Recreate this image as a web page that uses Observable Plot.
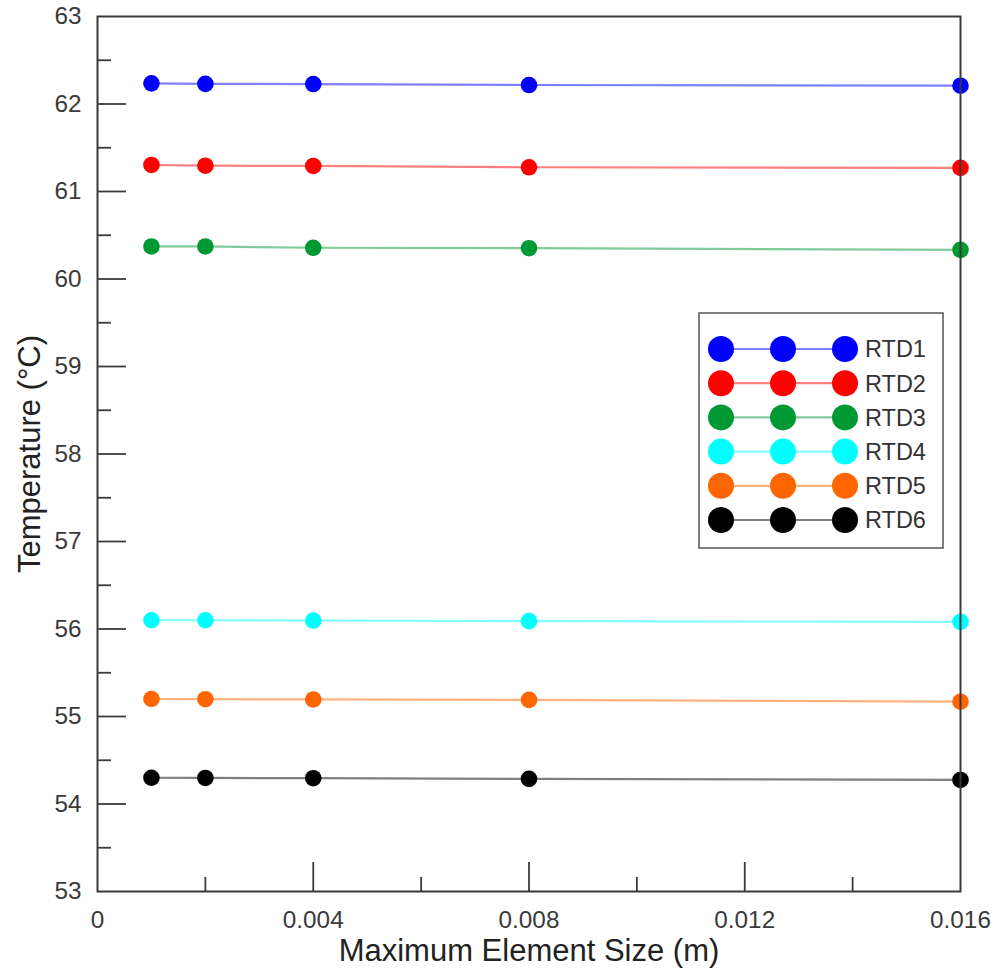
<!DOCTYPE html>
<html>
<head>
<meta charset="utf-8">
<script src="https://cdn.jsdelivr.net/npm/d3@7"></script>
<script src="https://cdn.jsdelivr.net/npm/@observablehq/plot@0.6"></script>
<style>
  body { margin: 0; background: #fff; }
  #wrap { position: relative; width: 995px; height: 970px; font-family: "Liberation Sans", Arial, sans-serif; }
  #wrap svg { display: block; }
  #legend { position: absolute; left: 0; top: 0; }
</style>
</head>
<body>
<div id="wrap"></div>
<script>
// ---- data ----
const elementSizes = [0.001, 0.002, 0.004, 0.008, 0.016];
const seriesNames = ["RTD1", "RTD2", "RTD3", "RTD4", "RTD5", "RTD6"];
const seriesColors = ["#0000ff", "#ff0000", "#009933", "#00ffff", "#ff6600", "#000000"];
const rtd1 = [62.236, 62.230, 62.228, 62.217, 62.209];
const rtd2 = [61.303, 61.295, 61.292, 61.277, 61.270];
const rtd3 = [60.372, 60.372, 60.357, 60.352, 60.333];
const rtd4 = [56.100, 56.100, 56.097, 56.090, 56.082];
const rtd5 = [55.200, 55.198, 55.195, 55.190, 55.169];
const rtd6 = [54.300, 54.298, 54.295, 54.287, 54.275];
const xMajorTicks = [0, 0.004, 0.008, 0.012, 0.016];
const xMinorTicks = [0.002, 0.006, 0.010, 0.014];
const yMajorTicks = [53, 54, 55, 56, 57, 58, 59, 60, 61, 62, 63];
const yMinorTicks = [53.5, 54.5, 55.5, 56.5, 57.5, 58.5, 59.5, 60.5, 61.5, 62.5];
const xTitle = "Maximum Element Size (m)";
const yTitle = "Temperature (°C)";

const allSeries = [rtd1, rtd2, rtd3, rtd4, rtd5, rtd6];
const rows = [];
allSeries.forEach((vals, i) => vals.forEach((v, j) => rows.push({ series: seriesNames[i], size: elementSizes[j], temp: v })));

const font = "'Liberation Sans', Arial, sans-serif";
const axisColor = "#3a3a3a";

const chart = Plot.plot({
  width: 995,
  height: 970,
  marginLeft: 97,
  marginRight: 35,
  marginTop: 16,
  marginBottom: 79,
  style: { fontFamily: font, background: "#fff", overflow: "visible" },
  x: { domain: [0, 0.016] },
  y: { domain: [53, 63] },
  color: { domain: seriesNames, range: seriesColors },
  marks: [
    // tick labels
    Plot.axisX(xMajorTicks, { tickSize: 0, tickPadding: 19, fontSize: 24.3, fill: axisColor, tickFormat: d => String(d), label: null }),
    Plot.axisY(yMajorTicks, { tickSize: 0, tickPadding: 16, fontSize: 24.3, fill: axisColor, tickFormat: d => String(d), label: null }),
    // inward ticks
    Plot.axisX(xMajorTicks.slice(1, -1), { text: null, tickSize: -29, stroke: axisColor, strokeWidth: 1.8, label: null }),
    Plot.axisX(xMinorTicks, { text: null, tickSize: -14, stroke: axisColor, strokeWidth: 1.8, label: null }),
    Plot.axisY(yMajorTicks.slice(1, -1), { text: null, tickSize: -29, stroke: axisColor, strokeWidth: 1.8, label: null }),
    Plot.axisY(yMinorTicks, { text: null, tickSize: -14, stroke: axisColor, strokeWidth: 1.8, label: null }),
    // data
    Plot.line(rows, { x: "size", y: "temp", z: "series", stroke: "series", strokeOpacity: 0.5, strokeWidth: 2.2 }),
    Plot.dot(rows, { x: "size", y: "temp", fill: "series", r: 8.3 }),
    Plot.frame({ stroke: axisColor, strokeWidth: 2 }),
    // titles
    Plot.text([xTitle], { text: d => d, frameAnchor: "bottom", dy: 60, textAnchor: "middle", lineAnchor: "middle", fontSize: 31, fill: "#222" }),
    Plot.text([yTitle], { text: d => d, frameAnchor: "left", dx: -67, rotate: -90, textAnchor: "middle", lineAnchor: "middle", fontSize: 31, fill: "#222" })
  ]
});

const wrap = document.getElementById("wrap");
wrap.appendChild(chart);

// ---- legend overlay (inside the plot area) ----
const lg = d3.select(wrap).append("svg")
  .attr("id", "legend")
  .attr("width", 995).attr("height", 970);
const box = { x: 699, y: 313, w: 244, h: 235 };
lg.append("rect")
  .attr("x", box.x).attr("y", box.y).attr("width", box.w).attr("height", box.h)
  .attr("fill", "#fff").attr("stroke", "#555").attr("stroke-width", 1.5);
const rowY0 = 349, rowStep = 34.2;
const cxs = [721, 783, 845];
seriesNames.forEach((name, i) => {
  const yy = rowY0 + i * rowStep;
  const g = lg.append("g");
  g.append("line").attr("x1", cxs[0]).attr("x2", cxs[2]).attr("y1", yy).attr("y2", yy)
    .attr("stroke", seriesColors[i]).attr("stroke-opacity", 0.5).attr("stroke-width", 2.2);
  cxs.forEach(cx => g.append("circle").attr("cx", cx).attr("cy", yy).attr("r", 13).attr("fill", seriesColors[i]));
  g.append("text").attr("x", 865).attr("y", yy).attr("dy", "0.36em")
    .attr("font-family", font).attr("font-size", 23.5).attr("fill", "#333").text(name);
});
</script>
</body>
</html>
